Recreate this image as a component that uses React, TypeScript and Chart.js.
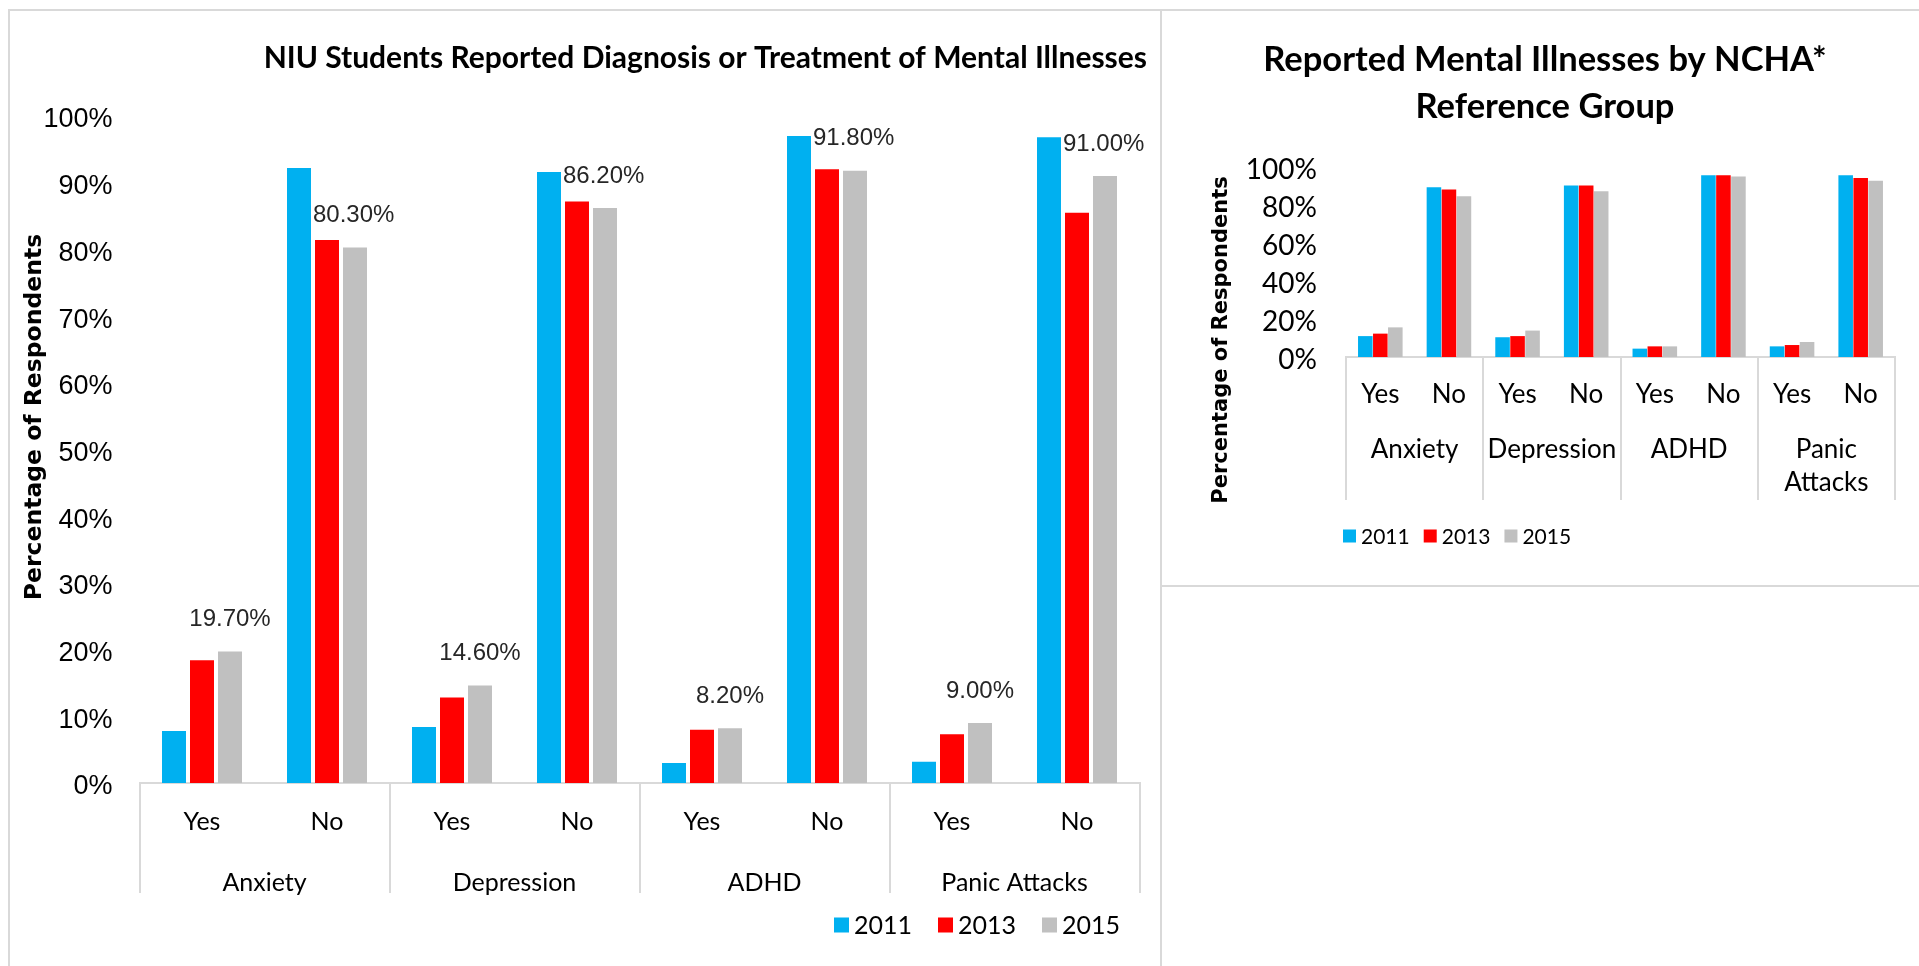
import React, { useEffect, useRef } from 'react';
import { Chart, registerables } from 'chart.js';

Chart.register(...registerables);

// ---------------- data ----------------
const SUBCATEGORIES = ['Yes', 'No', 'Yes', 'No', 'Yes', 'No', 'Yes', 'No'];
const GROUPS = ['Anxiety', 'Depression', 'ADHD', 'Panic Attacks'];
const RIGHT_GROUPS: (string | string[])[] = ['Anxiety', 'Depression', 'ADHD', ['Panic', 'Attacks']];
const YEARS = ['2011', '2013', '2015'];
const COLORS = ['#00B0F0', '#FF0000', '#C0C0C0'];

// NIU students (percent)
const NIU_2011 = [7.8, 92.2, 8.4, 91.6, 3.0, 97.0, 3.2, 96.8];
const NIU_2013 = [18.4, 81.4, 12.8, 87.2, 8.0, 92.0, 7.3, 85.5];
const NIU_2015 = [19.7, 80.3, 14.6, 86.2, 8.2, 91.8, 9.0, 91.0];

// NCHA reference group (percent)
const NCHA_2011 = [11.0, 89.3, 10.4, 90.2, 4.4, 95.7, 5.6, 95.7];
const NCHA_2013 = [12.3, 88.1, 11.0, 90.2, 5.6, 95.7, 6.3, 94.2];
const NCHA_2015 = [15.6, 84.6, 13.9, 87.2, 5.6, 95.0, 7.9, 92.8];

const LEFT_TITLE = 'NIU Students Reported Diagnosis or Treatment of Mental Illnesses';
const RIGHT_TITLE = ['Reported Mental Illnesses by NCHA*', 'Reference Group'];
const Y_TITLE = 'Percentage of Respondents';

// ---------------- plugins ----------------
const yTitlePlugin = {
  id: 'yTitle',
  afterDraw(chart: any, _args: any, opts: any) {
    if (!opts || !opts.text) return;
    const ctx = chart.ctx;
    ctx.save();
    ctx.translate(opts.x, opts.y);
    ctx.rotate(-Math.PI / 2);
    ctx.font = opts.font;
    ctx.fillStyle = opts.color || '#000';
    ctx.textAlign = 'center';
    ctx.textBaseline = 'middle';
    ctx.fillText(opts.text, 0, 0);
    ctx.restore();
  },
};

const boxLegendPlugin = {
  id: 'boxLegend',
  afterDraw(chart: any, _args: any, opts: any) {
    if (!opts || opts.x === undefined) return;
    const ctx = chart.ctx;
    ctx.save();
    ctx.font = opts.font;
    ctx.textBaseline = 'middle';
    ctx.textAlign = 'left';
    let x = opts.x;
    chart.data.datasets.forEach((ds: any) => {
      ctx.fillStyle = ds.backgroundColor;
      ctx.fillRect(x, opts.y - opts.box / 2, opts.box, opts.box);
      x += opts.box + opts.textGap;
      ctx.fillStyle = opts.color || '#000';
      ctx.fillText(ds.label, x, opts.y + 1);
      x += ctx.measureText(ds.label).width + opts.itemGap;
    });
    ctx.restore();
  },
};

const valueLabelPlugin = {
  id: 'valueLabels',
  afterDatasetsDraw(chart: any, _args: any, opts: any) {
    if (!opts || opts.datasetIndex === undefined) return;
    const ctx = chart.ctx;
    const meta = chart.getDatasetMeta(opts.datasetIndex);
    const anchor = chart.getDatasetMeta(opts.anchorIndex);
    const ds = chart.data.datasets[opts.datasetIndex];
    ctx.save();
    ctx.font = opts.font;
    ctx.fillStyle = opts.color;
    ctx.textBaseline = 'middle';
    meta.data.forEach((bar: any, i: number) => {
      const text = Number(ds.data[i]).toFixed(2) + '%';
      const y = bar.y - opts.offset;
      if (SUBCATEGORIES[i] === 'Yes') {
        ctx.textAlign = 'center';
        ctx.fillText(text, bar.x, y);
      } else {
        const a = anchor.data[i];
        ctx.textAlign = 'left';
        ctx.fillText(text, a.x + a.width / 2 + 2, y);
      }
    });
    ctx.restore();
  },
};

const groupLineColor = (c: any) =>
  c.index === undefined || c.index % 2 === 0 ? '#D9D9D9' : 'rgba(0,0,0,0)';

function makeDatasets(series: number[][], barPct: number, catPct: number) {
  return series.map((d, i) => ({
    label: YEARS[i],
    data: d,
    backgroundColor: COLORS[i],
    borderWidth: 0,
    barPercentage: barPct,
    categoryPercentage: catPct,
  }));
}

function leftConfig(): any {
  return {
    type: 'bar',
    data: {
      labels: SUBCATEGORIES,
      datasets: makeDatasets([NIU_2011, NIU_2013, NIU_2015], 0.857, 0.672),
    },
    plugins: [yTitlePlugin, boxLegendPlugin, valueLabelPlugin],
    options: {
      responsive: false,
      animation: false,
      devicePixelRatio: 1,
      layout: { padding: { left: 0, right: 13, top: 0, bottom: 63 } },
      plugins: {
        legend: { display: false },
        tooltip: { enabled: false },
        title: {
          display: true,
          text: LEFT_TITLE,
          align: 'end',
          color: '#000',
          font: { family: 'Lato', size: 30, weight: 'bold', lineHeight: 1.2 },
          padding: { top: 29, bottom: 40 },
        },
        yTitle: { text: Y_TITLE, x: 25, y: 406, font: 'bold 23.5px "DejaVu Sans"', color: '#000' },
        boxLegend: { x: 824, y: 914, box: 15, textGap: 5, itemGap: 26, font: '25px Lato', color: '#000' },
        valueLabels: { datasetIndex: 2, anchorIndex: 0, offset: 32, font: '24px "Liberation Sans"', color: '#262626' },
      },
      scales: {
        x: {
          type: 'category',
          position: 'bottom',
          offset: true,
          grid: {
            display: true,
            offset: true,
            drawOnChartArea: false,
            drawTicks: true,
            tickLength: 110,
            lineWidth: 2,
            color: groupLineColor,
            tickColor: groupLineColor,
          },
          border: { display: true, color: '#D9D9D9', width: 2 },
          ticks: { padding: -86, autoSkip: false, maxRotation: 0, color: '#000', font: { family: 'Lato', size: 25 } },
          afterFit: (s: any) => { s.height = 60; },
        },
        x2: {
          type: 'category',
          position: 'bottom',
          labels: GROUPS,
          offset: true,
          grid: { display: false, drawTicks: false },
          border: { display: false },
          ticks: { padding: 24.5, autoSkip: false, maxRotation: 0, color: '#000', font: { family: 'Lato', size: 25 } },
          afterFit: (s: any) => { s.height = 60; },
        },
        y: {
          min: 0,
          max: 100,
          grid: { display: false, drawTicks: false },
          border: { display: false },
          ticks: {
            stepSize: 10,
            padding: 27,
            labelOffset: 4,
            color: '#000',
            font: { family: 'Liberation Sans', size: 27 },
            callback: (v: any) => v + '%',
          },
          afterFit: (s: any) => { s.width = 129.5; },
        },
        yRight: {
          position: 'right',
          display: true,
          grid: { display: false, drawTicks: false },
          border: { display: false },
          ticks: { display: false },
          afterFit: (s: any) => { s.width = 7.5; },
        },
      },
    },
  };
}

function rightConfig(): any {
  return {
    type: 'bar',
    data: {
      labels: SUBCATEGORIES,
      datasets: makeDatasets([NCHA_2011, NCHA_2013, NCHA_2015], 0.97, 0.656),
    },
    plugins: [yTitlePlugin, boxLegendPlugin],
    options: {
      responsive: false,
      animation: false,
      devicePixelRatio: 1,
      layout: { padding: { left: 33, right: 24, top: 0, bottom: 68 } },
      plugins: {
        legend: { display: false },
        tooltip: { enabled: false },
        title: {
          display: true,
          text: RIGHT_TITLE,
          align: 'center',
          color: '#000',
          font: { family: 'Lato', size: 34.5, weight: 'bold', lineHeight: 47 / 34.5 },
          padding: { top: 25.5, bottom: 36.5 },
        },
        yTitle: { text: Y_TITLE, x: 59.5, y: 329, font: 'bold 21px "DejaVu Sans"', color: '#000' },
        boxLegend: { x: 181, y: 525, box: 13, textGap: 5, itemGap: 14, font: '21px Lato', color: '#000' },
      },
      scales: {
        x: {
          type: 'category',
          position: 'bottom',
          offset: true,
          grid: {
            display: true,
            offset: true,
            drawOnChartArea: false,
            drawTicks: true,
            tickLength: 143,
            lineWidth: 2,
            color: groupLineColor,
            tickColor: groupLineColor,
          },
          border: { display: true, color: '#D9D9D9', width: 2 },
          ticks: { padding: -120.6, autoSkip: false, maxRotation: 0, color: '#000', font: { family: 'Lato', size: 26 } },
          afterFit: (s: any) => { s.height = 60; },
        },
        x2: {
          type: 'category',
          position: 'bottom',
          labels: RIGHT_GROUPS,
          offset: true,
          grid: { display: false, drawTicks: false },
          border: { display: false },
          ticks: {
            padding: 16.5,
            autoSkip: false,
            maxRotation: 0,
            color: '#000',
            font: { family: 'Lato', size: 26, lineHeight: 33 / 26 },
          },
          afterFit: (s: any) => { s.height = 100; },
        },
        y: {
          min: 0,
          max: 100,
          grid: { display: false, drawTicks: false },
          border: { display: false },
          ticks: {
            stepSize: 20,
            padding: 29,
            labelOffset: 3,
            color: '#000',
            font: { family: 'Lato', size: 28 },
            callback: (v: any) => v + '%',
          },
          afterFit: (s: any) => { s.width = 151; },
        },
      },
    },
  };
}

export default function App() {
  const leftRef = useRef<HTMLCanvasElement>(null);
  const rightRef = useRef<HTMLCanvasElement>(null);

  useEffect(() => {
    const left = new Chart(leftRef.current as HTMLCanvasElement, leftConfig());
    const right = new Chart(rightRef.current as HTMLCanvasElement, rightConfig());
    return () => {
      left.destroy();
      right.destroy();
    };
  }, []);

  return (
    <div style={{ position: 'absolute', left: 0, top: 0, width: 1919, height: 966, overflow: 'hidden', background: '#fff' }}>
      <div
        style={{
          position: 'absolute', left: 8, top: 9, width: 1154, height: 980, boxSizing: 'border-box',
          border: '2px solid #D9D9D9', borderBottom: 'none',
        }}
      />
      <div
        style={{
          position: 'absolute', left: 1160, top: 9, width: 770, height: 578, boxSizing: 'border-box',
          border: '2px solid #D9D9D9', background: '#fff',
        }}
      />
      <canvas ref={leftRef} width={1150} height={955} style={{ position: 'absolute', left: 10, top: 11, width: 1150, height: 955 }} />
      <canvas ref={rightRef} width={757} height={574} style={{ position: 'absolute', left: 1162, top: 11, width: 757, height: 574 }} />
    </div>
  );
}
